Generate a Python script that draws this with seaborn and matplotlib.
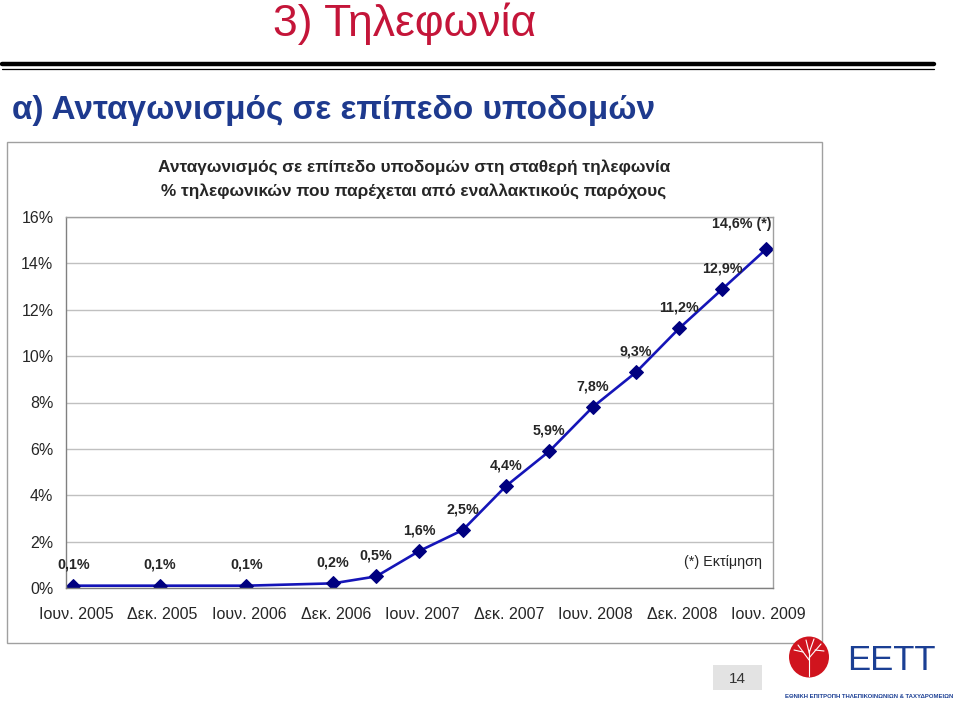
import pandas as pd
import matplotlib
matplotlib.use('Agg')
import matplotlib.pyplot as plt
import matplotlib.transforms as mtransforms
from matplotlib.patches import Rectangle, Ellipse
import seaborn as sns

# data (quarterly from Dec 2006)
dates = ['2005-06', '2005-12', '2006-06', '2006-12', '2007-03', '2007-06', '2007-09',
         '2007-12', '2008-03', '2008-06', '2008-09', '2008-12', '2009-03', '2009-06']
share = [0.1, 0.1, 0.1, 0.2, 0.5, 1.6, 2.5, 4.4, 5.9, 7.8, 9.3, 11.2, 12.9, 14.6]
point_labels = ['0,1%', '0,1%', '0,1%', '0,2%', '0,5%', '1,6%', '2,5%', '4,4%', '5,9%',
                '7,8%', '9,3%', '11,2%', '12,9%', '14,6% (*)']
tick_labels = ['Ιουν. 2005', 'Δεκ. 2005', 'Ιουν. 2006', 'Δεκ. 2006', 'Ιουν. 2007',
               'Δεκ. 2007', 'Ιουν. 2008', 'Δεκ. 2008', 'Ιουν. 2009']
y_ticks = [0, 2, 4, 6, 8, 10, 12, 14, 16]

df = pd.DataFrame({'date': pd.to_datetime(dates), 'share': share})
# months since June 2005, points sit mid-month
df['month'] = (df['date'].dt.year - 2005) * 12 + (df['date'].dt.month - 6) + 0.5

sns.set_style('white')
plt.rcParams['font.family'] = ['Liberation Sans', 'DejaVu Sans']

W, H = 960, 701
fig = plt.figure(figsize=(W / 100, H / 100), dpi=100)


def fx(px):
    return px / W


def fy(py):
    return 1 - py / H


# slide header
fig.text(fx(405), fy(36), '3) Τηλεφωνία', color='#C41539', fontsize=32,
         ha='center', va='baseline')
fig.add_artist(plt.Line2D([fx(2), fx(934)], [fy(64), fy(64)], color='black', lw=3.2))
fig.add_artist(plt.Line2D([fx(2), fx(934)], [fy(68.5), fy(68.5)], color='black', lw=0.9))
fig.text(fx(12), fy(119), 'α) Ανταγωνισμός σε επίπεδο υποδομών', color='#1E3A8E',
         fontsize=24, fontweight='bold', ha='left', va='baseline')

# chart frame
fig.add_artist(Rectangle((fx(7), fy(643)), fx(822) - fx(7), fy(142) - fy(643),
                         transform=fig.transFigure, fill=False, ec='#A0A0A0', lw=1))
fig.text(fx(414), fy(167), 'Ανταγωνισμός σε επίπεδο υποδομών στη σταθερή τηλεφωνία',
         fontsize=12.4, fontweight='bold', ha='center', va='center')
fig.text(fx(414), fy(191), '% τηλεφωνικών που παρέχεται από εναλλακτικούς παρόχους',
         fontsize=12.4, fontweight='bold', ha='center', va='center')

ax = fig.add_axes([fx(66), fy(588), fx(773) - fx(66), fy(217) - fy(588)])
sns.lineplot(data=df, x='month', y='share', ax=ax, color='#1515B8', lw=1.9,
             marker='D', markersize=7.5, markerfacecolor='#000080',
             markeredgecolor='#000080')

ax.set_xlim(0, 49)
ax.set_ylim(0, 16)
ax.set_xticks(range(0, 49, 6))
ax.set_xticklabels(tick_labels, fontsize=11.5)
ax.set_yticks(y_ticks)
ax.set_yticklabels([f'{v}%' for v in y_ticks], fontsize=11.5)
ax.set_xlabel('')
ax.set_ylabel('')
ax.tick_params(axis='both', length=5, width=1, color='#808080', direction='out')
ax.tick_params(axis='x', pad=9)
ax.tick_params(axis='y', pad=4)
shift = mtransforms.ScaledTranslation(10 / 100, 0, fig.dpi_scale_trans)
for lab in ax.get_xticklabels():
    lab.set_transform(lab.get_transform() + shift)

ax.grid(axis='y', color='#C0C0C0', lw=1)
ax.grid(axis='x', visible=False)
for s in ax.spines.values():
    s.set_color('#A0A0A0')
    s.set_linewidth(1)
ax.spines['left'].set_color('#808080')
ax.spines['bottom'].set_color('#808080')

for i, (xm, yv, lab) in enumerate(zip(df['month'], df['share'], point_labels)):
    if i == len(point_labels) - 1:
        ax.annotate(lab, (xm, yv), xytext=(4, 18), textcoords='offset points',
                    ha='right', va='center', fontsize=10.3, fontweight='bold')
    else:
        ax.annotate(lab, (xm, yv), xytext=(0, 15), textcoords='offset points',
                    ha='center', va='center', fontsize=10.3, fontweight='bold')

ax.text(0.985, 0.07, '(*) Εκτίμηση', transform=ax.transAxes, ha='right', va='center',
        fontsize=10.3)

# page number and logo
fig.add_artist(Rectangle((fx(713), fy(690)), fx(762) - fx(713), fy(665) - fy(690),
                         transform=fig.transFigure, fc='#E3E3E3', ec='none'))
fig.text(fx(737), fy(679), '14', fontsize=11, ha='center', va='center', color='#333333')
fig.add_artist(Ellipse((fx(809), fy(657)), 40 / W, 41 / H, transform=fig.transFigure,
                       fc='#D0141E', ec='none'))
tree = [((809, 676), (809, 650)), ((809, 660), (798, 645)), ((809, 658), (821, 644)),
        ((809, 652), (806, 640)), ((809, 653), (814, 639)), ((803, 652), (794, 650)),
        ((815, 650), (824, 651))]
for (x0, y0), (x1, y1) in tree:
    fig.add_artist(plt.Line2D([fx(x0), fx(x1)], [fy(y0), fy(y1)], color='white', lw=0.8))
fig.text(fx(891), fy(661), 'EETT', fontsize=25, color='#1B3F94', ha='center', va='center')
fig.text(fx(869), fy(696), 'ΕΘΝΙΚΗ ΕΠΙΤΡΟΠΗ ΤΗΛΕΠΙΚΟΙΝΩΝΙΩΝ & ΤΑΧΥΔΡΟΜΕΙΩΝ',
         fontsize=4.3, fontweight='bold', color='#1B3F94', ha='center', va='center')

fig.savefig('out.png', dpi=100)
